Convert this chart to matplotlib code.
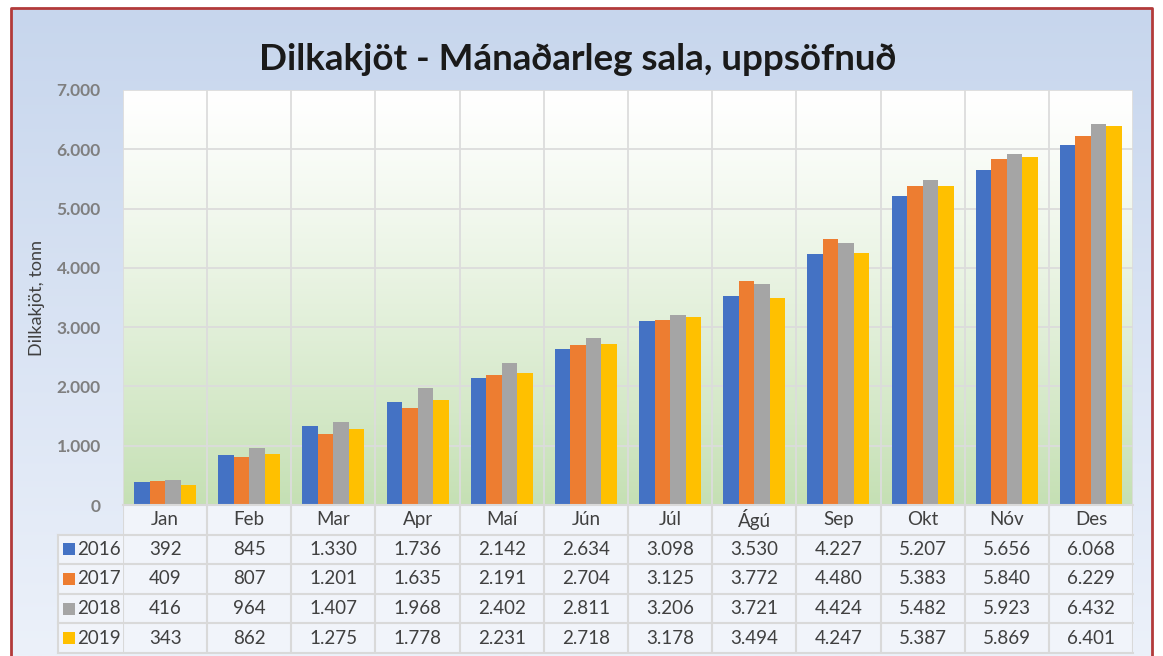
import numpy as np
import matplotlib.pyplot as plt
from matplotlib.patches import Rectangle

plt.rcParams['font.family'] = ['Lato', 'DejaVu Sans']

months = ['Jan', 'Feb', 'Mar', 'Apr', 'Maí', 'Jún', 'Júl', 'Ágú', 'Sep', 'Okt', 'Nóv', 'Des']
years = ['2016', '2017', '2018', '2019']
v2016 = [392, 845, 1330, 1736, 2142, 2634, 3098, 3530, 4227, 5207, 5656, 6068]
v2017 = [409, 807, 1201, 1635, 2191, 2704, 3125, 3772, 4480, 5383, 5840, 6229]
v2018 = [416, 964, 1407, 1968, 2402, 2811, 3206, 3721, 4424, 5482, 5923, 6432]
v2019 = [343, 862, 1275, 1778, 2231, 2718, 3178, 3494, 4247, 5387, 5869, 6401]
series = [v2016, v2017, v2018, v2019]
colors = ['#4472c4', '#ed7d31', '#a5a5a5', '#ffc000']
yticks = [0, 1000, 2000, 3000, 4000, 5000, 6000, 7000]


def fmt(v):
    # punktur sem þúsundaskil
    return f'{v:,}'.replace(',', '.')


W, H = 1163, 656
fig = plt.figure(figsize=(W / 100, H / 100), dpi=100)
fig.patch.set_facecolor('white')

# bakgrunnur (blár hallandi litur) og rauður rammi
bg = fig.add_axes([0, 0, 1, 1], zorder=-10)
bg.set_axis_off()
grad = np.linspace(0, 1, 256)[:, None]
c_top = np.array([199, 214, 237]) / 255
c_bot = np.array([236, 241, 250]) / 255
img = c_top + (c_bot - c_top) * grad[:, :, None]
bg.imshow(img, extent=[11, 1152, 0, H - 8], aspect='auto')
bg.set_xlim(0, W)
bg.set_ylim(0, H)
bg.plot([11, 11, 1152, 1152], [0, H - 8, H - 8, 0], color='#b23a3a', lw=2)

fig.text(578 / W, 1 - 60 / H, 'Dilkakjöt - Mánaðarleg sala, uppsöfnuð',
         ha='center', va='center', fontsize=26.5, fontweight='bold', color='#1a1a1a')

left, right, top, bot = 123 / W, 1133 / W, 1 - 90 / H, 1 - 505 / H
ax = fig.add_axes([left, bot, right - left, top - bot])
ax.set_xlim(-0.5, 11.5)
ax.set_ylim(0, 7000)

green = np.array([197, 224, 180]) / 255
pimg = np.ones(3) + (green - np.ones(3)) * np.linspace(0, 1, 256)[:, None, None] ** 1.2
ax.imshow(pimg, extent=[-0.5, 11.5, 0, 7000], aspect='auto', zorder=0)

x = np.arange(len(months))
bw = 0.184
for i, (vals, c) in enumerate(zip(series, colors)):
    ax.bar(x + (i - 1.5) * bw, vals, bw, color=c, zorder=3, label=years[i])

ax.set_yticks(yticks)
ax.set_yticklabels([fmt(t) for t in yticks], fontsize=12.5, fontweight='bold', color='#7f7f7f')
ax.set_xticks(np.arange(-0.5, 12, 1))
ax.set_xticklabels([])
ax.tick_params(length=0, pad=16)
ax.grid(True, color='#dcdcdc', lw=1.3, zorder=1)
for s in ax.spines.values():
    s.set_visible(False)
ax.set_ylabel('Dilkakjöt, tonn', fontsize=13, color='#404040', labelpad=8)

# gagnatafla undir myndinni
tbot = 1 - 653 / H
tax = fig.add_axes([left, tbot, right - left, bot - tbot])
tax.set_xlim(-0.5, 11.5)
tax.set_ylim(5, 0)
tax.set_axis_off()
lab_x0 = -0.5 - 65 / ((1133 - 123) / 12)
cell_c = '#f1f4fa'
line_c = '#d9d9d9'
fs = 13.5
tax.add_patch(Rectangle((-0.5, 0), 12, 5, fc=cell_c, ec='none', zorder=0))
tax.add_patch(Rectangle((lab_x0, 1), -0.5 - lab_x0, 4, fc=cell_c, ec='none', zorder=0, clip_on=False))
for i, m in enumerate(months):
    tax.text(i, 0.5, m, ha='center', va='center', fontsize=fs, color='#404040')
for r, (yr, vals, c) in enumerate(zip(years, series, colors)):
    yy = r + 1.5
    tax.add_patch(Rectangle((lab_x0 + 0.06, yy - 0.2), 0.14, 0.4, fc=c, ec='none', clip_on=False))
    tax.text(lab_x0 + 0.23, yy, yr, ha='left', va='center', fontsize=fs, color='#404040', clip_on=False)
    for i, v in enumerate(vals):
        tax.text(i, yy, fmt(v), ha='center', va='center', fontsize=fs, color='#404040')
# línur í töflunni
for k in range(13):
    tax.plot([k - 0.5, k - 0.5], [0, 5], color=line_c, lw=1.5, zorder=2)
tax.plot([lab_x0, lab_x0], [1, 5], color=line_c, lw=1.5, zorder=2, clip_on=False)
for r in range(6):
    x0 = -0.5 if r == 0 else lab_x0
    tax.plot([x0, 11.5], [r, r], color=line_c, lw=1.5, zorder=2, clip_on=False)

fig.savefig('out.png', dpi=100)
